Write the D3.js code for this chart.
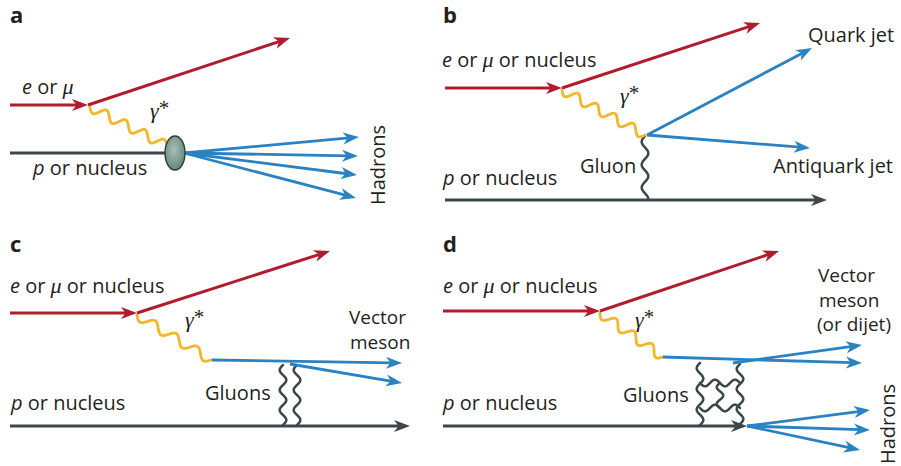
<!DOCTYPE html>
<html>
<head>
<meta charset="utf-8">
<script src="https://cdn.jsdelivr.net/npm/d3@7"></script>
<style>
  html, body { margin: 0; padding: 0; background: #fff; }
  svg { display: block; }
  text { font-family: "Open Sans", "Noto Sans", sans-serif; fill: #231f20; }
</style>
</head>
<body>
<svg id="fig" width="901" height="466"></svg>
<script>
// Four scattering diagrams; every coordinate below is in the panel's own units.
const panelIds = ["a", "b", "c", "d"];

// Charged lepton (or nucleus) lines: incoming then scattered
const leptonLines = [
  { panel: "a", from: [10, 105],  to: [88, 105] },
  { panel: "a", from: [88, 105],  to: [290, 38] },
  { panel: "b", from: [5, 88],    to: [122, 88] },
  { panel: "b", from: [122, 88],  to: [320, 23] },
  { panel: "c", from: [10, 83],   to: [137, 83] },
  { panel: "c", from: [137, 83],  to: [330, 21] },
  { panel: "d", from: [3, 81],    to: [160, 81] },
  { panel: "d", from: [160, 81],  to: [339, 21] }
];

// Target (proton or nucleus) lines
const targetLines = [
  { panel: "a", from: [10, 153], to: [166, 153], arrow: false },
  { panel: "b", from: [5, 200],  to: [387, 200], arrow: true },
  { panel: "c", from: [10, 196], to: [410, 196], arrow: true },
  { panel: "d", from: [3, 196],  to: [307, 196], arrow: true }
];

// Virtual photon γ*: endpoints and number of wave periods
const photonLines = [
  { panel: "a", from: [90, 107],  to: [167, 146], periods: 4 },
  { panel: "b", from: [122, 90],  to: [205, 135], periods: 4.5 },
  { panel: "c", from: [137, 85],  to: [211, 130], periods: 3.5 },
  { panel: "d", from: [160, 83],  to: [223, 127], periods: 3.5 }
];

// Gluon exchanges
const gluonLines = [
  { panel: "b", from: [205, 136], to: [205, 199], periods: 2.75 },
  { panel: "c", from: [283, 135], to: [283, 195], periods: 3 },
  { panel: "c", from: [297, 135], to: [297, 195], periods: 3 },
  { panel: "d", from: [260, 133], to: [260, 195], periods: 3 },
  { panel: "d", from: [300, 134], to: [300, 194], periods: 3 },
  { panel: "d", from: [260, 153], to: [300, 153], periods: 2 },
  { panel: "d", from: [260, 178], to: [300, 178], periods: 2 },
  { panel: "d", from: [280, 153], to: [280, 178], periods: 1.5 }
];

// Outgoing quark / meson / hadron lines
const hadronLines = [
  { panel: "a", from: [184, 153], to: [359, 137], arrow: true },
  { panel: "a", from: [184, 153], to: [358, 156], arrow: true },
  { panel: "a", from: [184, 153], to: [357, 175], arrow: true },
  { panel: "a", from: [184, 153], to: [356, 198], arrow: true },
  { panel: "b", from: [207, 135], to: [372, 48],  arrow: true },
  { panel: "b", from: [207, 135], to: [370, 148], arrow: true },
  { panel: "c", from: [212, 130], to: [402, 133], arrow: true },
  { panel: "c", from: [290, 134], to: [402, 153], arrow: true },
  { panel: "d", from: [223, 127], to: [422, 133], arrow: true },
  { panel: "d", from: [293, 133], to: [422, 115], arrow: true },
  { panel: "d", from: [307, 196], to: [430, 180], arrow: true },
  { panel: "d", from: [307, 196], to: [430, 200], arrow: true },
  { panel: "d", from: [307, 196], to: [420, 220], arrow: true }
];

// Hadronic blob in panel a
const blobs = [ { panel: "a", center: [175, 153], rx: 10, ry: 17 } ];

// Single-line text labels; parts are [text, style]
const textLabels = [
  { panel: "a", at: [10, 23],  parts: [["a", "letter"]] },
  { panel: "a", at: [22, 94],  parts: [["e", "it"], [" or ", ""], ["μ", "greek"]] },
  { panel: "a", at: [150, 118], parts: [["γ", "greek"], ["*", "star"]] },
  { panel: "a", at: [33, 175], parts: [["p", "it"], [" or nucleus", ""]] },

  { panel: "b", at: [3, 23],   parts: [["b", "letter"]] },
  { panel: "b", at: [2, 67],   parts: [["e", "it"], [" or ", ""], ["μ", "greek"], [" or nucleus", ""]] },
  { panel: "b", at: [180, 103], parts: [["γ", "greek"], ["*", "star"]] },
  { panel: "b", at: [368, 42], parts: [["Quark jet", ""]] },
  { panel: "b", at: [333, 173], parts: [["Antiquark jet", ""]] },
  { panel: "b", at: [140, 173], parts: [["Gluon", ""]] },
  { panel: "b", at: [3, 185],  parts: [["p", "it"], [" or nucleus", ""]] },

  { panel: "c", at: [10, 22],  parts: [["c", "letter"]] },
  { panel: "c", at: [10, 63],  parts: [["e", "it"], [" or ", ""], ["μ", "greek"], [" or nucleus", ""]] },
  { panel: "c", at: [185, 97], parts: [["γ", "greek"], ["*", "star"]] },
  { panel: "c", at: [205, 170], parts: [["Gluons", ""]] },
  { panel: "c", at: [11, 180], parts: [["p", "it"], [" or nucleus", ""]] },

  { panel: "d", at: [3, 22],   parts: [["d", "letter"]] },
  { panel: "d", at: [3, 63],   parts: [["e", "it"], [" or ", ""], ["μ", "greek"], [" or nucleus", ""]] },
  { panel: "d", at: [195, 97], parts: [["γ", "greek"], ["*", "star"]] },
  { panel: "d", at: [183, 172], parts: [["Gluons", ""]] },
  { panel: "d", at: [3, 180],  parts: [["p", "it"], [" or nucleus", ""]] }
];

// Stacked (multi-line) labels: one text per line
const stackedLabels = [
  { panel: "c", text: "Vector",     at: [349, 94] },
  { panel: "c", text: "meson",      at: [350, 118.5] },
  { panel: "d", text: "Vector",     at: [378, 52] },
  { panel: "d", text: "meson",      at: [379, 76.5] },
  { panel: "d", text: "(or dijet)", at: [377, 101] }
];

// Vertical labels (read bottom to top)
const rotatedLabels = [
  { panel: "a", at: [385, 205], text: "Hadrons" },
  { panel: "d", at: [455, 234], text: "Hadrons" }
];

const colors = { lepton: "#b01c2e", photon: "#f4b62a", hadron: "#2b82c3", target: "#3c474c", gluon: "#3c474c" };

const panelOrigin = { a: [0, 0], b: [440, 0], c: [0, 230], d: [440, 230] };
const scales = {};
panelIds.forEach(p => {
  const [ox, oy] = panelOrigin[p];
  scales[p] = {
    x: d3.scaleLinear().domain([0, 460]).range([ox, ox + 460]),
    y: d3.scaleLinear().domain([0, 236]).range([oy, oy + 236])
  };
});

const svg = d3.select("#fig");
const defs = svg.append("defs");
const grad = defs.append("radialGradient").attr("id", "blobFill").attr("cx", "45%").attr("cy", "40%").attr("r", "65%");
grad.append("stop").attr("offset", "0%").attr("stop-color", "#a7c1b7");
grad.append("stop").attr("offset", "100%").attr("stop-color", "#5f8177");

const lineLayer = svg.append("g");
const arrowLayer = svg.append("g");
const textLayer = svg.append("g");

function px(panel, pt) { const s = scales[panel]; return [s.x(pt[0]), s.y(pt[1])]; }

const straight = d3.line();

function drawArrowHead(tip, from, color) {
  const ang = Math.atan2(tip[1] - from[1], tip[0] - from[0]) * 180 / Math.PI;
  arrowLayer.append("path")
    .attr("d", "M0,0L-16,-6L-11.5,0L-16,6Z")
    .attr("transform", `translate(${tip[0]},${tip[1]}) rotate(${ang})`)
    .attr("fill", color);
}

function drawStraight(d, color, width, arrow) {
  const a = px(d.panel, d.from), b = px(d.panel, d.to);
  let end = b;
  if (arrow) {
    const L = Math.hypot(b[0] - a[0], b[1] - a[1]);
    end = [b[0] - (b[0] - a[0]) / L * 10, b[1] - (b[1] - a[1]) / L * 10];
  }
  lineLayer.append("path")
    .attr("d", straight([a, end]))
    .attr("fill", "none").attr("stroke", color).attr("stroke-width", width);
  if (arrow) drawArrowHead(b, a, color);
}

function wavyPoints(a, b, periods, amp) {
  const dx = b[0] - a[0], dy = b[1] - a[1], L = Math.hypot(dx, dy);
  const nx = -dy / L, ny = dx / L;
  return d3.range(0, 201).map(i => {
    const t = i / 200;
    const s = amp * Math.sin(2 * Math.PI * periods * t);
    return [a[0] + dx * t + nx * s, a[1] + dy * t + ny * s];
  });
}

function drawWavy(d, color, width, amp) {
  const a = px(d.panel, d.from), b = px(d.panel, d.to);
  lineLayer.append("path")
    .attr("d", d3.line().curve(d3.curveCatmullRom)(wavyPoints(a, b, d.periods, amp)))
    .attr("fill", "none").attr("stroke", color).attr("stroke-width", width)
    .attr("stroke-linecap", "round");
}

targetLines.forEach(d => drawStraight(d, colors.target, 3, d.arrow));
gluonLines.forEach(d => drawWavy(d, colors.gluon, 2.5, 3.3));
photonLines.forEach(d => drawWavy(d, colors.photon, 2.8, 4.6));
hadronLines.forEach(d => drawStraight(d, colors.hadron, 2.8, d.arrow));
leptonLines.forEach(d => drawStraight(d, colors.lepton, 3, true));

blobs.forEach(d => {
  const c = px(d.panel, d.center);
  lineLayer.append("ellipse")
    .attr("cx", c[0]).attr("cy", c[1]).attr("rx", d.rx).attr("ry", d.ry)
    .attr("fill", "url(#blobFill)").attr("stroke", "#2f3d39").attr("stroke-width", 1.4);
});

const partStyle = {
  "":     { family: null, style: "normal", weight: "normal", size: 20 },
  it:     { family: null, style: "italic", weight: "normal", size: 20 },
  greek:  { family: "'Liberation Serif', 'DejaVu Serif', serif", style: "italic", weight: "normal", size: 22 },
  star:   { family: "'Liberation Serif', 'DejaVu Serif', serif", style: "normal", weight: "normal", size: 21, shift: -3 },
  letter: { family: null, style: "normal", weight: "bold", size: 22 }
};

textLabels.forEach(d => {
  const [x, y] = px(d.panel, d.at);
  const t = textLayer.append("text").attr("x", x).attr("y", y).attr("xml:space", "preserve").style("white-space", "pre");
  d.parts.forEach(([str, key]) => {
    const st = partStyle[key];
    const ts = t.append("tspan").text(str)
      .attr("font-size", st.size)
      .attr("font-style", st.style)
      .attr("font-weight", st.weight);
    if (st.family) ts.attr("font-family", st.family);
    if (st.shift) ts.attr("dy", st.shift);
  });
});

stackedLabels.forEach(d => {
  const [x, y] = px(d.panel, d.at);
  textLayer.append("text")
    .attr("x", x).attr("y", y)
    .attr("font-size", 19)
    .text(d.text);
});

rotatedLabels.forEach(d => {
  const [x, y] = px(d.panel, d.at);
  textLayer.append("text")
    .attr("transform", `translate(${x},${y}) rotate(-90)`)
    .attr("font-size", 20)
    .text(d.text);
});
</script>
</body>
</html>
